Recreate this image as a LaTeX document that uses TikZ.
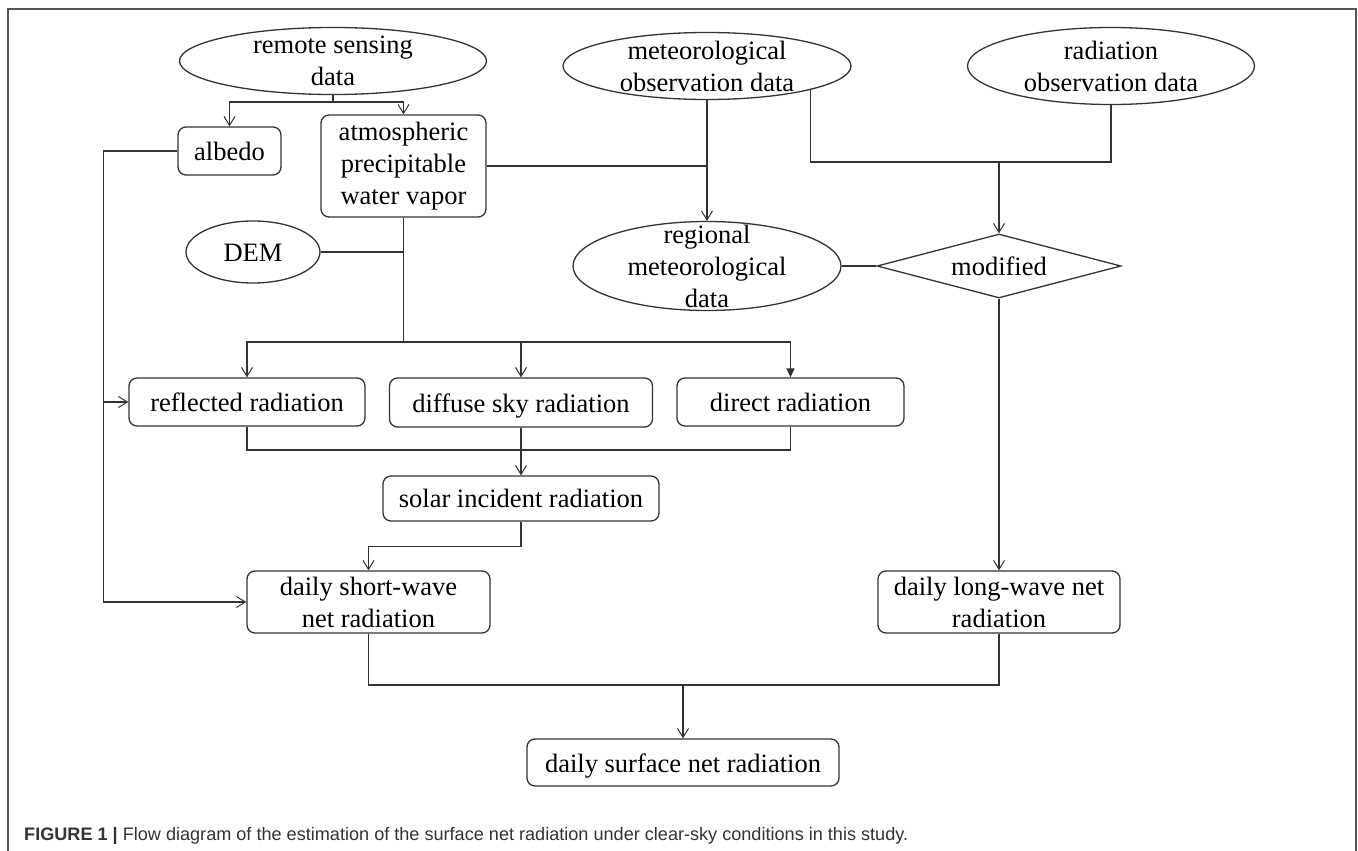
\documentclass[tikz,border=0pt]{standalone}
\usepackage{fontspec}
\setmainfont{Liberation Serif}
\newfontfamily\capfont{Liberation Sans}
\usetikzlibrary{shapes.geometric,arrows.meta,calc}
\definecolor{ln}{HTML}{333333}
\definecolor{frm}{HTML}{555555}
\definecolor{captxt}{HTML}{333333}
\tikzset{
  every node/.style={font=\fontsize{26.5}{32}\selectfont, text=black},
  rbox/.style={draw=ln, line width=1.3pt, rounded corners=8pt, inner sep=0pt, align=center},
  ebox/.style={draw=ln, line width=1.3pt, ellipse, inner sep=0pt},
  dbox/.style={draw=ln, line width=1.3pt, diamond, inner sep=0pt},
  lbl/.style={align=center, inner sep=0pt},
  txt/.style={anchor=base, inner sep=0pt},
  conn/.style={draw=ln, line width=1.2pt},
  arr/.style={conn, -{Straight Barb[length=9pt,width=11pt,line width=1pt]}},
  tri/.style={conn, -{Triangle[length=9pt,width=8pt]}},
}
\begin{document}
\begin{tikzpicture}[x=1pt,y=-1pt]
\useasboundingbox (0,0) rectangle (1358,851);
\fill[white] (0,0) rectangle (1358,851);
\draw[frm, line width=1.5pt] (8,851) -- (8,9) -- (1356,9) -- (1356,851);

% ellipses
\node[ebox, minimum width=307pt, minimum height=67pt] (rs) at (333,61) {};
\node[lbl] at (rs.center) {remote sensing\\data};
\node[ebox, minimum width=288pt, minimum height=67pt] (mo) at (707,66) {};
\node[lbl] at (mo.center) {meteorological\\observation data};
\node[ebox, minimum width=287pt, minimum height=77pt] (ro) at (1111,66) {};
\node[lbl] at (ro.center) {radiation\\observation data};
\node[ebox, minimum width=134pt, minimum height=62pt] (dem) at (253,252) {};
\node[txt] at ($(dem.center)+(0,9.5)$) {DEM};
\node[ebox, minimum width=268pt, minimum height=89pt] (reg) at (707,266) {};
\node[lbl] at (reg.center) {regional\\meteorological\\data};
\node[dbox, minimum width=244pt, minimum height=64pt] (mod) at (999,266) {};
\node[txt] at ($(mod.center)+(0,9.5)$) {modified};

% boxes
\node[rbox, minimum width=103pt, minimum height=48pt] (alb) at (229.5,151) {};
\node[txt] at ($(alb.center)+(0,9.5)$) {albedo};
\node[rbox, minimum width=165pt, minimum height=102pt] (apwv) at (403.5,166) {atmospheric\\precipitable\\water vapor};
\node[rbox, minimum width=236pt, minimum height=48pt] (refl) at (247,402) {};
\node[txt] at ($(refl.center)+(0,9.5)$) {reflected radiation};
\node[rbox, minimum width=263pt, minimum height=49pt] (diff) at (521,402.5) {};
\node[txt] at ($(diff.center)+(0,9.5)$) {diffuse sky radiation};
\node[rbox, minimum width=227pt, minimum height=48pt] (dir) at (790.5,402) {};
\node[txt] at ($(dir.center)+(0,9.5)$) {direct radiation};
\node[rbox, minimum width=276pt, minimum height=45pt] (sol) at (521,498.5) {};
\node[txt] at ($(sol.center)+(0,8.5)$) {solar incident radiation};
\node[rbox, minimum width=243pt, minimum height=62pt] (sw) at (368.5,602) {daily short-wave\\net radiation};
\node[rbox, minimum width=242pt, minimum height=62pt] (lw) at (999,602) {daily long-wave net\\radiation};
\node[rbox, minimum width=312pt, minimum height=47pt] (sn) at (683,762.5) {};
\node[txt] at ($(sn.center)+(0,9.5)$) {daily surface net radiation};

% coordinates
\coordinate (j1) at (333,102);
\coordinate (lr) at (104,402);
\coordinate (j3) at (1111,162);
\coordinate (jm) at (999,162);
\coordinate (j4) at (403.5,342);
\coordinate (j5) at (521,450);
\coordinate (j6) at (683,685);

% connectors
\draw[conn] (rs.south) -- (j1);
\draw[arr] (j1) -| (alb.north);
\draw[arr] (j1) -| (apwv.north);
\draw[arr] (alb.west) -- ++(-74,0) |- (sw.west);
\draw[arr] (lr) -- (refl.west);
\draw[conn] (apwv.east) -- (apwv.east -| mo.south);
\draw[arr] (mo.south) -- (reg.north);
\draw[conn] (mo.-13) |- (j3) -- (ro.south);
\draw[arr] (jm) -- (mod.north);
\draw[conn] (reg.east) -- (mod.west);
\draw[arr] (mod.south) -- (lw.north);
\draw[conn] (apwv.south) -- (j4);
\draw[conn] (dem.east) -- (dem.east -| apwv.south);
\draw[arr] (j4) -| (refl.north);
\draw[arr] (j4) -| (diff.north);
\draw[tri] (j4) -| (dir.north);
\draw[conn] (refl.south) |- (j5) -| (dir.south);
\draw[arr] (diff.south) -- (sol.north);
\draw[arr] (sol.south) -- ++(0,25) -| (sw.north);
\draw[conn] (sw.south) |- (j6) -| (lw.south);
\draw[arr] (j6) -- (sn.north);

% caption
\node[anchor=base west, inner sep=0pt, font=\capfont\fontsize{18.1}{22}\selectfont, text=captxt] (cap) at (24,840)
  {\textbf{FIGURE 1 |} Flow diagram of the estimation of the surface net radiation under clear-sky conditions in this study.};
\end{tikzpicture}
\end{document}
